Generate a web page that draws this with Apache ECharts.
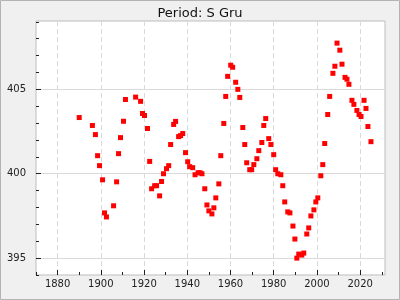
<!DOCTYPE html>
<html>
<head>
<meta charset="utf-8">
<script src="https://cdn.jsdelivr.net/npm/echarts@6/dist/echarts.min.js"></script>
<style>html,body{margin:0;padding:0;background:#f0f0f0}#c{width:400px;height:300px}</style>
</head>
<body>
<div id="c"></div>
<script>
var titleText = 'Period: S Gru';
var years = [1890.0, 1896.1, 1897.5, 1898.5, 1899.4, 1900.8, 1901.7, 1902.6, 1905.9, 1907.3,
  1908.2, 1909.1, 1910.5, 1911.4, 1916.1, 1918.4, 1919.3, 1920.2, 1921.6, 1922.6,
  1923.5, 1924.9, 1925.8, 1927.2, 1928.1, 1929.0, 1930.4, 1931.4, 1932.3, 1933.7,
  1934.6, 1936.0, 1936.9, 1937.9, 1939.2, 1940.2, 1941.1, 1942.5, 1943.6, 1945.0,
  1945.9, 1946.8, 1948.1, 1949.1, 1950.0, 1951.4, 1952.3, 1953.2, 1954.6, 1955.5,
  1956.9, 1957.8, 1958.7, 1960.1, 1961.0, 1962.4, 1963.4, 1964.3, 1965.7, 1966.6,
  1967.5, 1968.9, 1969.8, 1970.8, 1972.2, 1973.1, 1974.5, 1975.4, 1976.3, 1977.7,
  1978.7, 1980.0, 1980.9, 1981.9, 1983.3, 1984.2, 1985.1, 1986.5, 1987.5, 1988.9,
  1989.8, 1990.7, 1991.6, 1993.0, 1993.9, 1995.3, 1996.2, 1997.2, 1998.6, 1999.5,
  2000.4, 2001.8, 2002.7, 2003.6, 2005.0, 2005.9, 2007.4, 2008.3, 2009.3, 2010.6,
  2011.6, 2013.0, 2013.9, 2014.8, 2016.2, 2017.1, 2018.5, 2019.5, 2020.4, 2021.8,
  2022.7, 2023.6, 2025.0];
var periods = [403.33, 402.86, 402.32, 401.07, 400.48, 399.64, 397.68, 397.44, 398.10, 399.52,
  401.19, 402.14, 403.11, 404.40, 404.54, 404.29, 403.57, 403.45, 402.68, 400.73,
  399.11, 399.29, 399.29, 398.69, 399.54, 400.00, 400.30, 400.48, 401.73, 402.92,
  403.10, 402.20, 402.26, 402.38, 401.25, 400.71, 400.42, 400.36, 399.94, 400.06,
  400.06, 400.00, 399.11, 398.15, 397.80, 397.62, 397.98, 398.57, 399.40, 401.07,
  402.98, 404.58, 405.77, 406.43, 406.31, 405.42, 405.00, 404.52, 402.74, 401.73,
  400.65, 400.24, 400.24, 400.54, 400.89, 401.37, 401.85, 402.86, 403.27, 402.08,
  401.73, 401.13, 400.24, 400.00, 399.94, 399.29, 398.33, 397.74, 397.68, 396.90,
  396.13, 395.00, 395.24, 395.18, 395.30, 396.43, 396.79, 397.50, 397.86, 398.33,
  398.57, 399.88, 400.54, 401.79, 403.51, 404.58, 405.95, 406.37, 407.74, 407.32,
  406.49, 405.71, 405.60, 405.30, 404.35, 404.11, 403.75, 403.51, 403.39, 404.35,
  403.87, 402.80, 401.90];
var xMajorTicks = [1880, 1900, 1920, 1940, 1960, 1980, 2000, 2020];
var xMinorTicks = [1870, 1890, 1910, 1930, 1950, 1970, 1990, 2010, 2030];
var yMajorTicks = [395, 400, 405];
var yMinorTicks = [394, 396, 397, 398, 399, 401, 402, 403, 404, 406, 407, 408, 409];
var xMin = 1870, xMax = 2031.5, yMin = 394, yMax = 409.05;

var points = years.map(function (y, i) { return [y, periods[i]]; });
function plain(v) { return String(v); }

var font = 'DejaVu Sans';
var chart = echarts.init(document.getElementById('c'));
chart.setOption({
  animation: false,
  backgroundColor: '#f0f0f0',
  title: {
    text: titleText, left: 'center', top: 2,
    textStyle: { fontFamily: font, fontSize: 13, fontWeight: 'normal', color: '#111' }
  },
  graphic: [{
    type: 'rect', silent: true, z: 100,
    shape: { x: 0.5, y: 0.5, width: 399, height: 299 },
    style: { fill: 'none', stroke: '#b4b4b4', lineWidth: 1 }
  }],
  grid: {
    left: 36, right: 15, top: 21, bottom: 25, show: true,
    backgroundColor: '#ffffff', borderColor: '#bdbdbd', borderWidth: 1
  },
  xAxis: [{
    type: 'value', min: xMin, max: xMax, position: 'bottom',
    axisLine: { show: false },
    splitLine: { show: true, lineStyle: { color: '#dadada', width: 1, type: [5, 3] } },
    axisTick: { show: true, inside: true, length: 5, customValues: xMajorTicks, lineStyle: { color: '#222' } },
    axisLabel: { customValues: xMajorTicks, formatter: plain, fontFamily: font, fontSize: 10, color: '#222', margin: 4 }
  }, {
    type: 'value', min: xMin, max: xMax, position: 'bottom', gridIndex: 0,
    axisLine: { show: false },
    splitLine: { show: false },
    axisTick: { show: true, inside: true, length: 3, customValues: xMinorTicks, lineStyle: { color: '#222' } },
    axisLabel: { show: false }
  }],
  yAxis: [{
    type: 'value', min: yMin, max: yMax, position: 'left',
    axisLine: { show: false },
    splitLine: { show: true, lineStyle: { color: '#dadada', width: 1, type: 'solid' } },
    axisTick: { show: true, inside: true, length: 5, customValues: yMajorTicks, lineStyle: { color: '#222' } },
    axisLabel: { customValues: yMajorTicks, formatter: plain, fontFamily: font, fontSize: 10, color: '#222', margin: 10 }
  }, {
    type: 'value', min: yMin, max: yMax, position: 'left', gridIndex: 0,
    axisLine: { show: false },
    splitLine: { show: false },
    axisTick: { show: true, inside: true, length: 3, customValues: yMinorTicks, lineStyle: { color: '#222' } },
    axisLabel: { show: false }
  }],
  series: [{
    type: 'scatter', data: points, z: 3,
    symbol: 'rect', symbolSize: 5,
    itemStyle: { color: '#ff0000', opacity: 1 }
  }]
});
</script>
</body>
</html>
